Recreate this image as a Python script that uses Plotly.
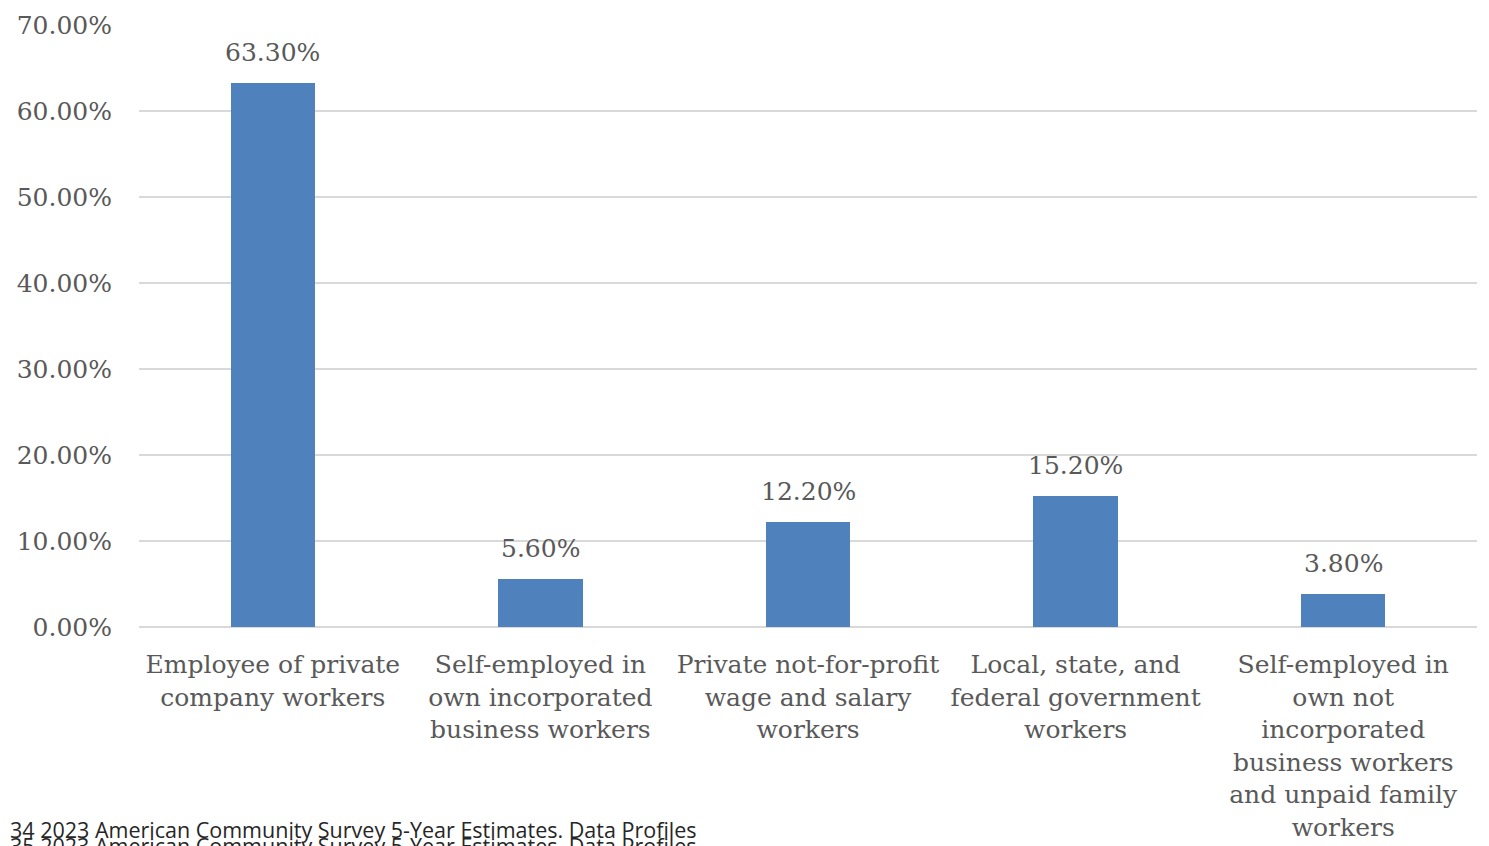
import plotly.graph_objects as go

# Class of worker shares
categories = [
    "Employee of private<br>company workers",
    "Self-employed in<br>own incorporated<br>business workers",
    "Private not-for-profit<br>wage and salary<br>workers",
    "Local, state, and<br>federal government<br>workers",
    "Self-employed in<br>own not<br>incorporated<br>business workers<br>and unpaid family<br>workers",
]
shares = [0.633, 0.056, 0.122, 0.152, 0.038]
y_ticks = [0.0, 0.1, 0.2, 0.3, 0.4, 0.5, 0.6, 0.7]
source_notes = [
    "34 2023 American Community Survey 5-Year Estimates. Data Profiles",
    "35 2023 American Community Survey 5-Year Estimates. Data Profiles",
]

W, H = 1489, 846
ML, MR, MT, MB = 139, 12, 25, 219
TEXT = "#595959"
SERIF = "DejaVu Serif"
FS = 25

fig = go.Figure(
    go.Bar(
        x=categories,
        y=shares,
        marker=dict(color="#4f81bd", line=dict(width=0)),
        width=0.315,
        cliponaxis=False,
        hoverinfo="skip",
    )
)

# value labels above each bar
for cat, v in zip(categories, shares):
    fig.add_annotation(
        x=cat,
        y=v,
        text=f"{v:.2%}",
        showarrow=False,
        xanchor="center",
        yanchor="bottom",
        yshift=14,
        font=dict(family=SERIF, size=FS, color=TEXT),
    )

fig.update_layout(
    width=W,
    height=H,
    margin=dict(l=ML, r=MR, t=MT, b=MB, autoexpand=False),
    paper_bgcolor="white",
    plot_bgcolor="white",
    showlegend=False,
    bargap=0,
    font=dict(family=SERIF, color=TEXT),
)

fig.update_yaxes(
    range=[0, 0.7006],
    tickvals=y_ticks,
    tickformat=".2%",
    tickfont=dict(family=SERIF, size=FS, color=TEXT),
    showgrid=True,
    gridcolor="#d9d9d9",
    gridwidth=1.5,
    zeroline=True,
    zerolinecolor="#d9d9d9",
    zerolinewidth=1.5,
    showline=False,
    ticks="",
    ticklabelstandoff=26,
    automargin=False,
)

fig.update_xaxes(
    tickfont=dict(family=SERIF, size=FS, color=TEXT),
    showline=False,
    ticks="",
    showgrid=False,
    tickangle=0,
    ticklabelstandoff=20,
    automargin=False,
)

plot_w = W - ML - MR
plot_h = H - MT - MB
for i, note in enumerate(source_notes):
    fig.add_annotation(
        text=note,
        xref="paper",
        yref="paper",
        x=(8 - ML) / plot_w,
        y=-(829 + 16 * i - (H - MB)) / plot_h,
        xanchor="left",
        yanchor="middle",
        showarrow=False,
        font=dict(family="Open Sans", size=21.5, color="#262626"),
    )

fig.write_html("out.html")
